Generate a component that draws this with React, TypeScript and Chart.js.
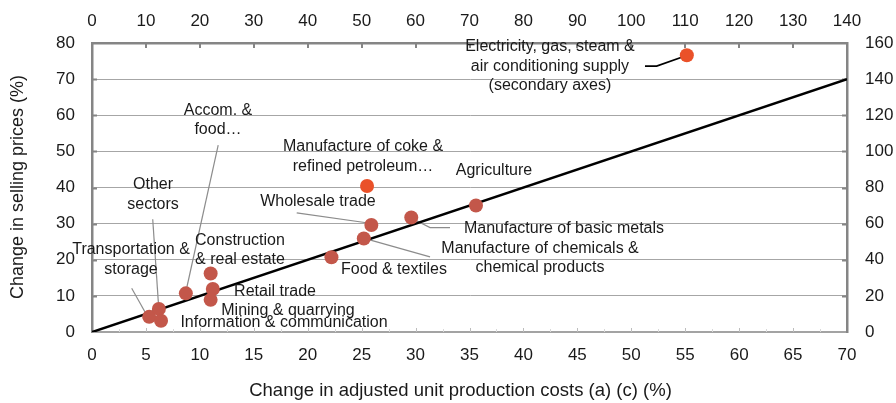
import React, { useEffect, useRef } from "react";
import { Chart, registerables } from "chart.js";

Chart.register(...registerables);

// ---------- DATA ----------
const sectors = [
  "Transportation & storage",
  "Other sectors",
  "Information & communication",
  "Accom. & food…",
  "Construction & real estate",
  "Retail trade",
  "Mining & quarrying",
  "Food & textiles",
  "Manufacture of chemicals & chemical products",
  "Wholesale trade",
  "Manufacture of basic metals",
  "Agriculture",
];
const costChange = [5.3, 6.2, 6.4, 8.7, 11.0, 11.2, 11.0, 22.2, 25.2, 25.9, 29.6, 35.6];
const priceChange = [4.2, 6.4, 3.1, 10.7, 16.2, 11.9, 8.9, 20.7, 25.9, 29.6, 31.7, 35.0];

const highlightSectors = ["Manufacture of coke & refined petroleum…"];
const highlightCost = [25.5];
const highlightPrice = [40.4];

// plotted against the secondary (top / right) axes
const secondarySectors = ["Electricity, gas, steam & air conditioning supply"];
const secondaryCost = [110.3];
const secondaryPrice = [153.2];

const diagonalX = [0, 70];
const diagonalY = [0, 70];

const xRange = [0, 70];
const x2Range = [0, 140];
const yRange = [0, 80];
const y2Range = [0, 160];
const xStep = 5;
const x2Step = 10;
const yStep = 10;
const y2Step = 20;

const xTitle = "Change in adjusted unit production costs (a) (c) (%)";
const yTitle = "Change in selling prices (%)";

// ---------- LABEL LAYOUT (primary-axis units) ----------
type LabelSpec = {
  lines: string[];
  at: [number, number];
  leader?: [number, number][];
  leaderColor?: string;
  align?: CanvasTextAlign;
};
const labelLayout: LabelSpec[] = [
  { lines: ["Electricity, gas, steam &", "air conditioning supply", "(secondary axes)"], at: [42.46, 73.5],
    leader: [[51.27, 73.6], [52.35, 73.6], [55.0, 76.4]], leaderColor: "#000" },
  { lines: ["Accom. &", "food…"], at: [11.68, 58.7], leader: [[11.7, 51.75], [8.78, 12.18]] },
  { lines: ["Manufacture of coke &", "refined petroleum…"], at: [25.13, 48.6] },
  { lines: ["Agriculture"], at: [37.27, 44.8] },
  { lines: ["Wholesale trade"], at: [20.95, 36.0], leader: [[18.98, 33.0], [25.77, 30.1]] },
  { lines: ["Manufacture of basic metals"], at: [43.76, 28.5], leader: [[29.64, 31.5], [31.34, 28.9], [33.19, 28.9]] },
  { lines: ["Manufacture of chemicals &", "chemical products"], at: [41.54, 20.5], leader: [[25.25, 25.9], [31.34, 20.8]] },
  { lines: ["Food & textiles"], at: [28.0, 17.4] },
  { lines: ["Other", "sectors"], at: [5.66, 38.1], leader: [[5.63, 31.2], [6.18, 7.0]] },
  { lines: ["Construction", "& real estate"], at: [13.72, 22.7] },
  { lines: ["Transportation &", "storage"], at: [3.62, 20.1], leader: [[3.68, 12.1], [5.07, 4.7]] },
  { lines: ["Retail trade"], at: [16.97, 11.1] },
  { lines: ["Mining & quarrying"], at: [18.17, 5.8] },
  { lines: ["Information & communication"], at: [17.8, 2.5] },
];

const FONT = "'Liberation Sans', Arial, Helvetica, sans-serif";
const TEXT = "#1a1a1a";
const AXIS = "#858585";
const POINT = "#c3574a";
const HIGHLIGHT = "#ea5129";

const PLOT = { left: 92, right: 847, top: 43, bottom: 332 };
const W = 896;
const H = 403;

const decorPlugin = {
  id: "decor",
  beforeDatasetsDraw(chart: any) {
    const { ctx, chartArea: a, scales } = chart;
    const x = scales.x, y = scales.y, x2 = scales.x2, y2 = scales.y2;
    ctx.save();
    // inward tick marks
    ctx.lineWidth = 2;
    ctx.strokeStyle = AXIS;
    for (let v = yRange[0] + yStep; v < yRange[1]; v += yStep) {
      const py = Math.round(y.getPixelForValue(v)) + 0.5;
      ctx.beginPath(); ctx.moveTo(a.left, py); ctx.lineTo(a.left + 5, py); ctx.stroke();
    }
    for (let v = y2Range[0] + y2Step; v < y2Range[1]; v += y2Step) {
      const py = Math.round(y2.getPixelForValue(v)) + 0.5;
      ctx.beginPath(); ctx.moveTo(a.right, py); ctx.lineTo(a.right - 5, py); ctx.stroke();
    }
    for (let v = x2Range[0] + x2Step; v < x2Range[1]; v += x2Step) {
      const px = Math.round(x2.getPixelForValue(v));
      ctx.beginPath(); ctx.moveTo(px, a.top); ctx.lineTo(px, a.top + 5); ctx.stroke();
    }
    ctx.lineWidth = 1;
    for (let v = xRange[0] + xStep / 2; v < xRange[1]; v += xStep / 2) {
      const px = Math.round(x.getPixelForValue(v)) + 0.5;
      const major = Math.abs(v / xStep - Math.round(v / xStep)) < 1e-6;
      ctx.strokeStyle = major ? "#bdbdbd" : "#d8d8d8";
      ctx.beginPath(); ctx.moveTo(px, a.bottom); ctx.lineTo(px, a.bottom - (major ? 4 : 3)); ctx.stroke();
    }
    // leader lines
    for (const l of labelLayout) {
      if (!l.leader) continue;
      ctx.strokeStyle = l.leaderColor || "#8c8c8c";
      ctx.lineWidth = l.leaderColor ? 1.6 : 1.2;
      ctx.beginPath();
      l.leader.forEach((p, i) => {
        const px = x.getPixelForValue(p[0]);
        const py = y.getPixelForValue(p[1]);
        if (i === 0) ctx.moveTo(px, py); else ctx.lineTo(px, py);
      });
      ctx.stroke();
    }
    ctx.restore();
  },
  afterDraw(chart: any) {
    const { ctx, chartArea: a, scales } = chart;
    const x = scales.x, y = scales.y;
    ctx.save();
    ctx.fillStyle = TEXT;
    ctx.font = `16px ${FONT}`;
    ctx.textBaseline = "middle";
    const lh = 19.5;
    for (const l of labelLayout) {
      const cx = x.getPixelForValue(l.at[0]);
      const cy = y.getPixelForValue(l.at[1]);
      ctx.textAlign = l.align || "center";
      const n = l.lines.length;
      l.lines.forEach((t, i) => {
        ctx.fillText(t, cx, cy + (i - (n - 1) / 2) * lh);
      });
    }
    // axis titles
    ctx.font = `18.5px ${FONT}`;
    ctx.textAlign = "center";
    ctx.textBaseline = "middle";
    ctx.fillText(xTitle, (a.left + a.right) / 2 - 9, 391);
    ctx.save();
    ctx.translate(18, 187);
    ctx.rotate(-Math.PI / 2);
    ctx.font = `18px ${FONT}`;
    ctx.fillText(yTitle, 0, 0);
    ctx.restore();
    ctx.restore();
  },
};

export default function App() {
  const ref = useRef<HTMLCanvasElement | null>(null);
  useEffect(() => {
    document.body.style.margin = "0";
    if (!ref.current) return;
    const tickFont = { family: FONT, size: 17 };
    const chart = new Chart(ref.current, {
      type: "scatter",
      data: {
        datasets: [
          {
            label: "45° line",
            data: diagonalX.map((v, i) => ({ x: v, y: diagonalY[i] })),
            showLine: true,
            borderColor: "#000",
            borderWidth: 2.6,
            pointRadius: 0,
            xAxisID: "x",
            yAxisID: "y",
            order: 3,
          },
          {
            label: "Sectors",
            data: costChange.map((v, i) => ({ x: v, y: priceChange[i], name: sectors[i] })),
            backgroundColor: POINT,
            borderWidth: 0,
            pointRadius: 7,
            xAxisID: "x",
            yAxisID: "y",
            order: 1,
          },
          {
            label: "Highlighted",
            data: highlightCost.map((v, i) => ({ x: v, y: highlightPrice[i], name: highlightSectors[i] })),
            backgroundColor: HIGHLIGHT,
            borderWidth: 0,
            pointRadius: 7,
            xAxisID: "x",
            yAxisID: "y",
            order: 1,
          },
          {
            label: "Secondary",
            data: secondaryCost.map((v, i) => ({ x: v, y: secondaryPrice[i], name: secondarySectors[i] })),
            backgroundColor: HIGHLIGHT,
            borderWidth: 0,
            pointRadius: 7,
            xAxisID: "x2",
            yAxisID: "y2",
            order: 1,
          },
        ],
      },
      options: {
        responsive: false,
        animation: false,
        devicePixelRatio: 1,
        layout: { padding: 0 },
        plugins: { legend: { display: false }, tooltip: { enabled: false } },
        scales: {
          x: {
            type: "linear",
            position: "bottom",
            min: xRange[0],
            max: xRange[1],
            ticks: { stepSize: xStep, font: tickFont, color: TEXT, padding: 13, maxRotation: 0 },
            grid: { display: true, drawOnChartArea: false, drawTicks: false },
            border: { display: true, color: "#a3a3a3", width: 2 },
            afterFit: (s: any) => { s.height = H - PLOT.bottom; },
          },
          x2: {
            type: "linear",
            position: "top",
            min: x2Range[0],
            max: x2Range[1],
            ticks: { stepSize: x2Step, font: tickFont, color: TEXT, padding: 11, maxRotation: 0 },
            grid: { display: true, drawOnChartArea: false, drawTicks: false },
            border: { display: true, color: AXIS, width: 2.5 },
            afterFit: (s: any) => { s.height = PLOT.top; },
          },
          y: {
            type: "linear",
            position: "left",
            min: yRange[0],
            max: yRange[1],
            ticks: { stepSize: yStep, font: tickFont, color: TEXT, padding: 17 },
            grid: { display: true, drawOnChartArea: true, drawTicks: false, color: "#a6a6a6", lineWidth: 1 },
            border: { display: true, color: AXIS, width: 2.5 },
            afterFit: (s: any) => { s.width = PLOT.left; },
          },
          y2: {
            type: "linear",
            position: "right",
            min: y2Range[0],
            max: y2Range[1],
            ticks: { stepSize: y2Step, font: tickFont, color: TEXT, padding: 18 },
            grid: { display: true, drawOnChartArea: false, drawTicks: false },
            border: { display: true, color: AXIS, width: 2.5 },
            afterFit: (s: any) => { s.width = W - PLOT.right; },
          },
        },
      },
      plugins: [decorPlugin],
    } as any);
    return () => chart.destroy();
  }, []);
  return (
    <div style={{ position: "absolute", left: 0, top: 0, width: W, height: H, background: "#fff" }}>
      <canvas ref={ref} width={W} height={H} style={{ width: W, height: H, display: "block" }} />
    </div>
  );
}
